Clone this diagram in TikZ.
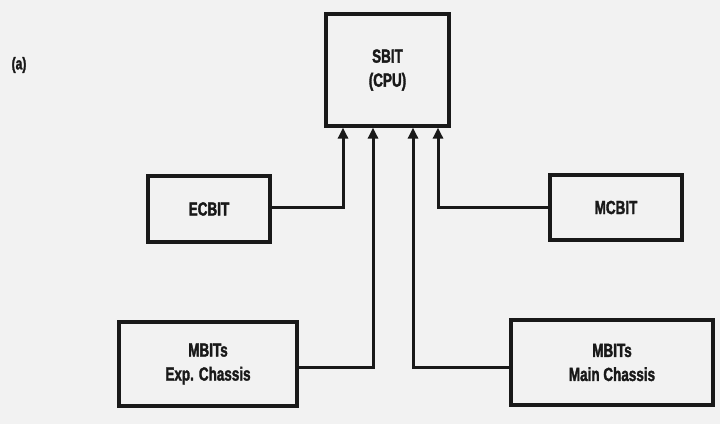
\documentclass[tikz,border=0pt]{standalone}
\usepackage{fontspec}
\setmainfont{Liberation Sans}[FakeStretch=0.71,FakeBold=1.8]
\usetikzlibrary{arrows.meta}
\begin{document}
\begin{tikzpicture}[x=1pt,y=-1pt,
  box/.style={draw=black!90, line width=3.2pt, rectangle, inner sep=0pt, align=center,
    font=\bfseries\fontsize{19}{24}\selectfont, text=black!90},
  link/.style={draw=black!90, line width=3pt},
  tip/.style={-{Triangle[length=11pt,width=10pt]}}]
\fill[black!5] (0,0) rectangle (720,424);
\useasboundingbox (0,0) rectangle (720,424);
\node[font=\bfseries\fontsize{17}{18}\selectfont, text=black!90] (lbl) at (19,65) {(a)};
\node[box, minimum width=123pt, minimum height=112pt] (sbit) at (387.5,70) {SBIT\\(CPU)};
\node[box, minimum width=122pt, minimum height=66pt] (ecbit) at (209,209) {ECBIT};
\node[box, minimum width=132pt, minimum height=65pt] (mcbit) at (616,207.5) {MCBIT};
\node[box, minimum width=178pt, minimum height=84pt] (exp) at (208,364) {MBITs\\Exp. Chassis};
\node[box, minimum width=202pt, minimum height=85pt] (main) at (612,362.5) {MBITs\\Main Chassis};
\draw[link, tip] ([yshift=2pt]ecbit.east) -| ([xshift=-44.5pt]sbit.south);
\draw[link, tip] ([yshift=-3pt]exp.east) -| ([xshift=-14.5pt]sbit.south);
\draw[link, tip] ([yshift=-4.5pt]main.west) -| ([xshift=25.5pt]sbit.south);
\draw[link, tip] ([yshift=0.5pt]mcbit.west) -| ([xshift=50.5pt]sbit.south);
\end{tikzpicture}
\end{document}
